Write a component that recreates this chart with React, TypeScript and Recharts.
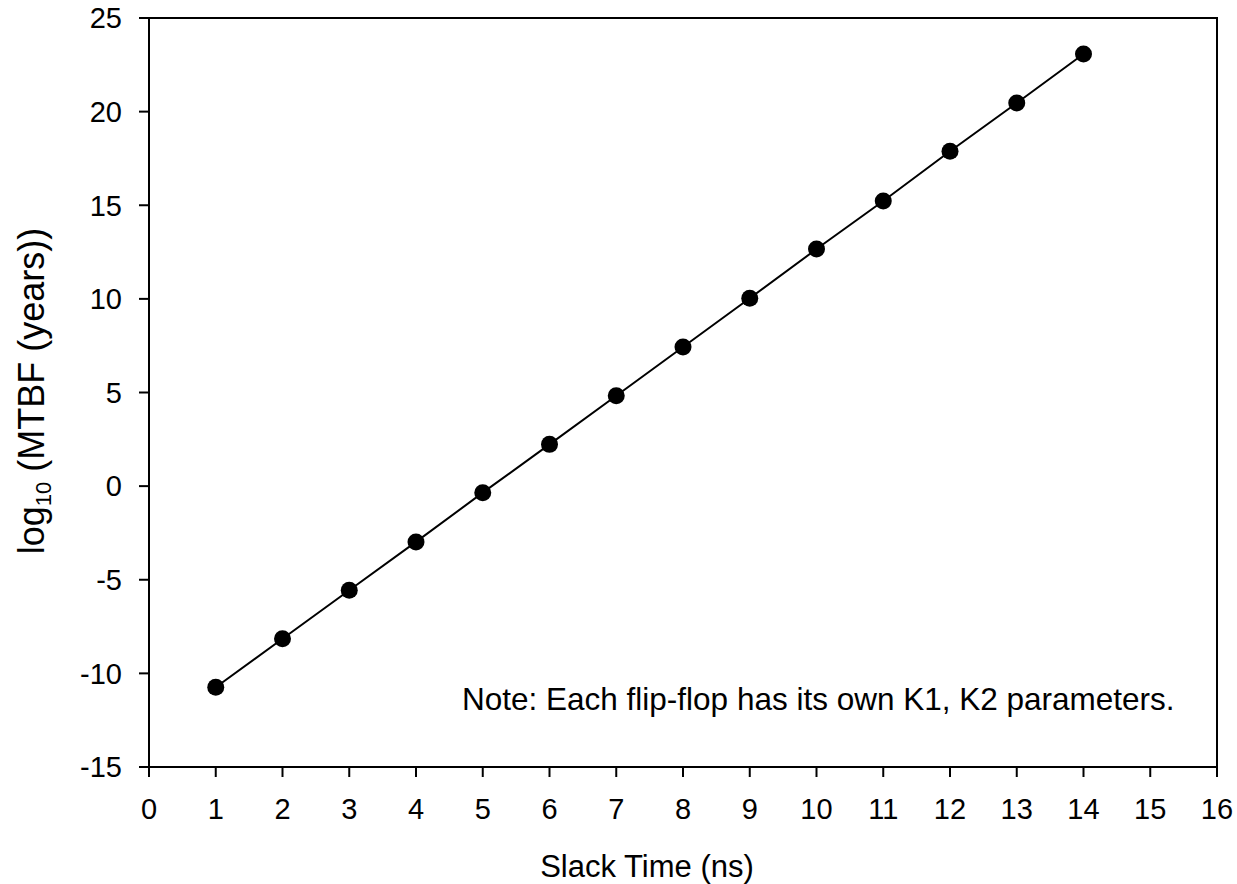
import React from 'react';
import { ComposedChart, Line, XAxis, YAxis, ReferenceArea } from 'recharts';

const slackNs = [1, 2, 3, 4, 5, 6, 7, 8, 9, 10, 11, 12, 13, 14];
const logMtbf = [-10.74, -8.15, -5.56, -2.98, -0.35, 2.23, 4.83, 7.43, 10.03, 12.66, 15.23, 17.88, 20.46, 23.08];
const xTicks = [0, 1, 2, 3, 4, 5, 6, 7, 8, 9, 10, 11, 12, 13, 14, 15, 16];
const yTicks = [-15, -10, -5, 0, 5, 10, 15, 20, 25];

const xTitle = 'Slack Time (ns)';
const yTitleMain = 'log';
const yTitleSub = '10';
const yTitleRest = ' (MTBF (years))';
const noteText = 'Note: Each flip-flop has its own K1, K2 parameters.';

const data = slackNs.map((x, i) => ({ x, y: logMtbf[i] }));

const FONT = '"Liberation Sans", Arial, sans-serif';

export default function App() {
  return (
    <div style={{ position: 'absolute', left: 0, top: 0, width: 1237, height: 884 }}>
      <ComposedChart
        width={1237}
        height={884}
        data={data}
        margin={{ top: 18, right: 20, left: 0, bottom: 0 }}
        style={{ fontFamily: FONT }}
      >
        <ReferenceArea
          x1={0}
          x2={16}
          y1={-15}
          y2={25}
          fill="none"
          stroke="#000"
          strokeWidth={2}
          fillOpacity={0}
          label={{
            content: () => (
              <text x={462} y={710} fontSize={31.5} fontFamily={FONT} fill="#000">
                {noteText}
              </text>
            ),
          }}
        />
        <XAxis
          dataKey="x"
          type="number"
          domain={[0, 16]}
          ticks={xTicks}
          interval={0}
          height={117}
          tickSize={10}
          tickMargin={21}
          stroke="#000"
          strokeWidth={2}
          tick={{ fill: '#000', fontSize: 29, fontFamily: FONT }}
          label={{
            content: () => (
              <text x={647} y={877} textAnchor="middle" fontSize={31} fontFamily={FONT} fill="#000">
                {xTitle}
              </text>
            ),
          }}
        />
        <YAxis
          type="number"
          domain={[-15, 25]}
          ticks={yTicks}
          interval={0}
          width={149}
          tickSize={10}
          tickMargin={17}
          stroke="#000"
          strokeWidth={2}
          tick={{ fill: '#000', fontSize: 29, fontFamily: FONT }}
          label={{
            content: () => (
              <text
                x={0}
                y={0}
                transform="translate(44, 391) rotate(-90)"
                textAnchor="middle"
                fontSize={36}
                fontFamily={FONT}
                fill="#000"
              >
                {yTitleMain}
                <tspan fontSize={22} dy={7}>{yTitleSub}</tspan>
                <tspan dy={-7}>{yTitleRest}</tspan>
              </text>
            ),
          }}
        />
        <Line
          type="linear"
          dataKey="y"
          stroke="#000"
          strokeWidth={2}
          dot={{ r: 8.5, fill: '#000', stroke: '#000', strokeWidth: 0 }}
          isAnimationActive={false}
        />
      </ComposedChart>
    </div>
  );
}
